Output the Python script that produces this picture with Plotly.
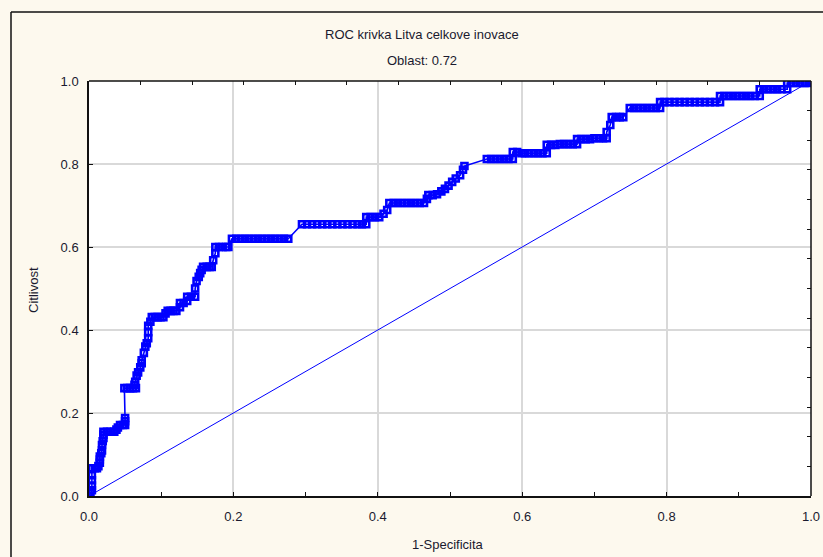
import plotly.graph_objects as go

# ROC curve points (1-Specificita, Citlivost)
fpr = [0.000, 0.002, 0.004, 0.004, 0.004, 0.004, 0.004, 0.008, 0.011, 0.013,
       0.015, 0.015, 0.015, 0.017, 0.018, 0.018, 0.019, 0.020, 0.020, 0.020,
       0.025, 0.030, 0.035, 0.038, 0.040, 0.043, 0.047, 0.050, 0.050, 0.050,
       0.049, 0.053, 0.057, 0.061, 0.065, 0.063, 0.064, 0.066, 0.068, 0.071,
       0.073, 0.073, 0.076, 0.078, 0.080, 0.082, 0.082, 0.082, 0.085, 0.087,
       0.091, 0.095, 0.099, 0.103, 0.106, 0.109, 0.113, 0.117, 0.121, 0.126,
       0.126, 0.131, 0.136, 0.136, 0.141, 0.147, 0.147, 0.149, 0.152, 0.154,
       0.156, 0.158, 0.163, 0.167, 0.170, 0.172, 0.175, 0.175, 0.180, 0.185,
       0.190, 0.193, 0.198, 0.204, 0.210, 0.216, 0.222, 0.228, 0.234, 0.240,
       0.246, 0.252, 0.258, 0.264, 0.270, 0.276, 0.295, 0.302, 0.309, 0.316,
       0.323, 0.330, 0.337, 0.344, 0.351, 0.358, 0.365, 0.372, 0.378, 0.384,
       0.384, 0.390, 0.396, 0.402, 0.408, 0.413, 0.416, 0.422, 0.428, 0.434,
       0.440, 0.446, 0.452, 0.458, 0.464, 0.468, 0.470, 0.476, 0.482, 0.488,
       0.493, 0.498, 0.503, 0.508, 0.514, 0.518, 0.520, 0.551, 0.557, 0.563,
       0.569, 0.575, 0.581, 0.587, 0.587, 0.593, 0.599, 0.604, 0.610, 0.616,
       0.622, 0.628, 0.634, 0.634, 0.640, 0.646, 0.652, 0.658, 0.664, 0.670,
       0.676, 0.676, 0.682, 0.688, 0.694, 0.700, 0.706, 0.712, 0.717, 0.717,
       0.722, 0.724, 0.730, 0.735, 0.740, 0.749, 0.755, 0.761, 0.767, 0.773,
       0.779, 0.785, 0.791, 0.791, 0.797, 0.804, 0.811, 0.818, 0.825, 0.832,
       0.839, 0.846, 0.853, 0.860, 0.867, 0.874, 0.874, 0.880, 0.886, 0.892,
       0.898, 0.904, 0.910, 0.916, 0.922, 0.929, 0.929, 0.935, 0.941, 0.947,
       0.953, 0.959, 0.967, 0.967, 0.973, 0.979, 0.985, 0.991, 0.997, 1.000]
tpr = [0.000, 0.007, 0.014, 0.025, 0.038, 0.050, 0.067, 0.067, 0.067, 0.072,
       0.080, 0.088, 0.095, 0.103, 0.110, 0.123, 0.132, 0.140, 0.148, 0.155,
       0.155, 0.155, 0.155, 0.160, 0.165, 0.171, 0.171, 0.171, 0.180, 0.188,
       0.260, 0.260, 0.260, 0.260, 0.260, 0.268, 0.275, 0.290, 0.298, 0.310,
       0.320, 0.327, 0.345, 0.360, 0.368, 0.380, 0.395, 0.410, 0.420, 0.431,
       0.431, 0.431, 0.431, 0.431, 0.440, 0.446, 0.446, 0.446, 0.446, 0.455,
       0.465, 0.465, 0.470, 0.480, 0.480, 0.480, 0.500, 0.518, 0.528, 0.537,
       0.545, 0.552, 0.552, 0.552, 0.552, 0.568, 0.585, 0.600, 0.600, 0.600,
       0.600, 0.600, 0.620, 0.620, 0.620, 0.620, 0.620, 0.620, 0.620, 0.620,
       0.620, 0.620, 0.620, 0.620, 0.620, 0.620, 0.655, 0.655, 0.655, 0.655,
       0.655, 0.655, 0.655, 0.655, 0.655, 0.655, 0.655, 0.655, 0.655, 0.655,
       0.672, 0.672, 0.672, 0.672, 0.680, 0.689, 0.706, 0.706, 0.706, 0.706,
       0.706, 0.706, 0.706, 0.706, 0.706, 0.716, 0.725, 0.725, 0.727, 0.734,
       0.740, 0.748, 0.757, 0.765, 0.773, 0.786, 0.795, 0.812, 0.812, 0.812,
       0.812, 0.812, 0.812, 0.812, 0.829, 0.829, 0.826, 0.826, 0.826, 0.826,
       0.826, 0.826, 0.826, 0.846, 0.846, 0.846, 0.848, 0.848, 0.848, 0.848,
       0.848, 0.860, 0.860, 0.860, 0.860, 0.862, 0.862, 0.862, 0.862, 0.877,
       0.894, 0.913, 0.913, 0.913, 0.913, 0.935, 0.935, 0.935, 0.935, 0.935,
       0.935, 0.935, 0.935, 0.949, 0.949, 0.949, 0.949, 0.949, 0.949, 0.949,
       0.949, 0.949, 0.949, 0.949, 0.949, 0.949, 0.964, 0.964, 0.964, 0.964,
       0.964, 0.964, 0.964, 0.964, 0.964, 0.964, 0.980, 0.980, 0.980, 0.980,
       0.980, 0.980, 0.980, 0.995, 0.995, 0.995, 0.995, 0.995, 0.995, 1.000]

diag_x = [0.0, 1.0]
diag_y = [0.0, 1.0]

x_ticks = [0.0, 0.2, 0.4, 0.6, 0.8, 1.0]
y_ticks = [0.0, 0.2, 0.4, 0.6, 0.8, 1.0]
x_minor = [0.1, 0.3, 0.5, 0.7, 0.9]
mirror_ticks = [1/14, 2/14, 3/14, 4/14, 5/14, 6/14, 7/14, 8/14, 9/14, 10/14, 11/14, 12/14, 13/14]

title_1 = "ROC krivka Litva celkove inovace"
title_2 = "Oblast: 0.72"
x_title = "1-Specificita"
y_title = "Citlivost"

BLUE = "#0000ff"
FONT = "Liberation Sans, Arial, sans-serif"
TXT = "#1a1a2e"

fig = go.Figure()
fig.add_trace(go.Scatter(x=diag_x, y=diag_y, mode="lines",
                         line=dict(color=BLUE, width=1), hoverinfo="skip"))
fig.add_trace(go.Scatter(x=fpr, y=tpr, mode="lines+markers",
                         line=dict(color=BLUE, width=1.6),
                         marker=dict(symbol="square-open", size=6, color=BLUE,
                                     line=dict(color=BLUE, width=2.6))))
# invisible trace for mirrored top/right axes
fig.add_trace(go.Scatter(x=[0, 1], y=[0, 1], xaxis="x2", yaxis="y2",
                         mode="markers", marker=dict(opacity=0), hoverinfo="skip"))

axis_common = dict(range=[0, 1], showline=True, linecolor="#111111", linewidth=1.5,
                   ticks="inside", ticklen=4, tickwidth=1, tickcolor="#111111",
                   showgrid=True, gridcolor="#d9d9d9", gridwidth=1.5, zeroline=False,
                   tickfont=dict(family=FONT, size=13, color=TXT),
                   tickformat=".1f", fixedrange=True, automargin=False)

fig.update_layout(
    width=823, height=557,
    margin=dict(l=89, r=12, t=81, b=61, autoexpand=False),
    paper_bgcolor="#fdf9ee", plot_bgcolor="#ffffff",
    showlegend=False,
    xaxis=dict(**axis_common, tickvals=x_ticks, ticklabelstandoff=8,
               minor=dict(tickvals=x_minor, ticks="inside", ticklen=4,
                          tickcolor="#111111", showgrid=False)),
    yaxis=dict(**axis_common, tickvals=y_ticks, ticklabelstandoff=6),
    xaxis2=dict(range=[0, 1], overlaying="x", side="top", showline=False,
                ticks="inside", ticklen=4, tickcolor="#111111", tickvals=mirror_ticks,
                showticklabels=False, showgrid=False, zeroline=False, automargin=False),
    yaxis2=dict(range=[0, 1], overlaying="y", side="right", showline=False,
                ticks="inside", ticklen=4, tickcolor="#111111", tickvals=mirror_ticks,
                showticklabels=False, showgrid=False, zeroline=False, automargin=False),
)

# mirrored axis lines (top / right)
fig.add_shape(type="line", xref="paper", yref="paper", x0=0, x1=1, y0=1, y1=1,
              line=dict(color="#111111", width=1.5))
fig.add_shape(type="line", xref="paper", yref="paper", x0=1, x1=1, y0=0, y1=1,
              line=dict(color="#111111", width=1.5))
# outer frame (left and top edges)
fig.add_shape(type="line", xref="paper", yref="paper",
              x0=(11 - 89) / 722, x1=(11 - 89) / 722, y0=(496 - 560) / 415, y1=(496 - 12) / 415,
              line=dict(color="#111111", width=1.5))
fig.add_shape(type="line", xref="paper", yref="paper",
              x0=(11 - 89) / 722, x1=(830 - 89) / 722, y0=(496 - 12) / 415, y1=(496 - 12) / 415,
              line=dict(color="#111111", width=1.5))

ann_font = dict(family=FONT, size=13, color=TXT)
fig.add_annotation(text=title_1, xref="paper", yref="paper", x=(422 - 89) / 722,
                   y=(496 - 35) / 415, showarrow=False, font=ann_font,
                   xanchor="center", yanchor="middle")
fig.add_annotation(text=title_2, xref="paper", yref="paper", x=(422 - 89) / 722,
                   y=(496 - 60) / 415, showarrow=False, font=ann_font,
                   xanchor="center", yanchor="middle")
fig.add_annotation(text=x_title, xref="paper", yref="paper", x=(448 - 89) / 722,
                   y=(496 - 544) / 415, showarrow=False, font=ann_font,
                   xanchor="center", yanchor="middle")
fig.add_annotation(text=y_title, xref="paper", yref="paper", x=(33 - 89) / 722,
                   y=(496 - 290) / 415, showarrow=False, font=ann_font, textangle=-90,
                   xanchor="center", yanchor="middle")

fig.write_html("out.html")
